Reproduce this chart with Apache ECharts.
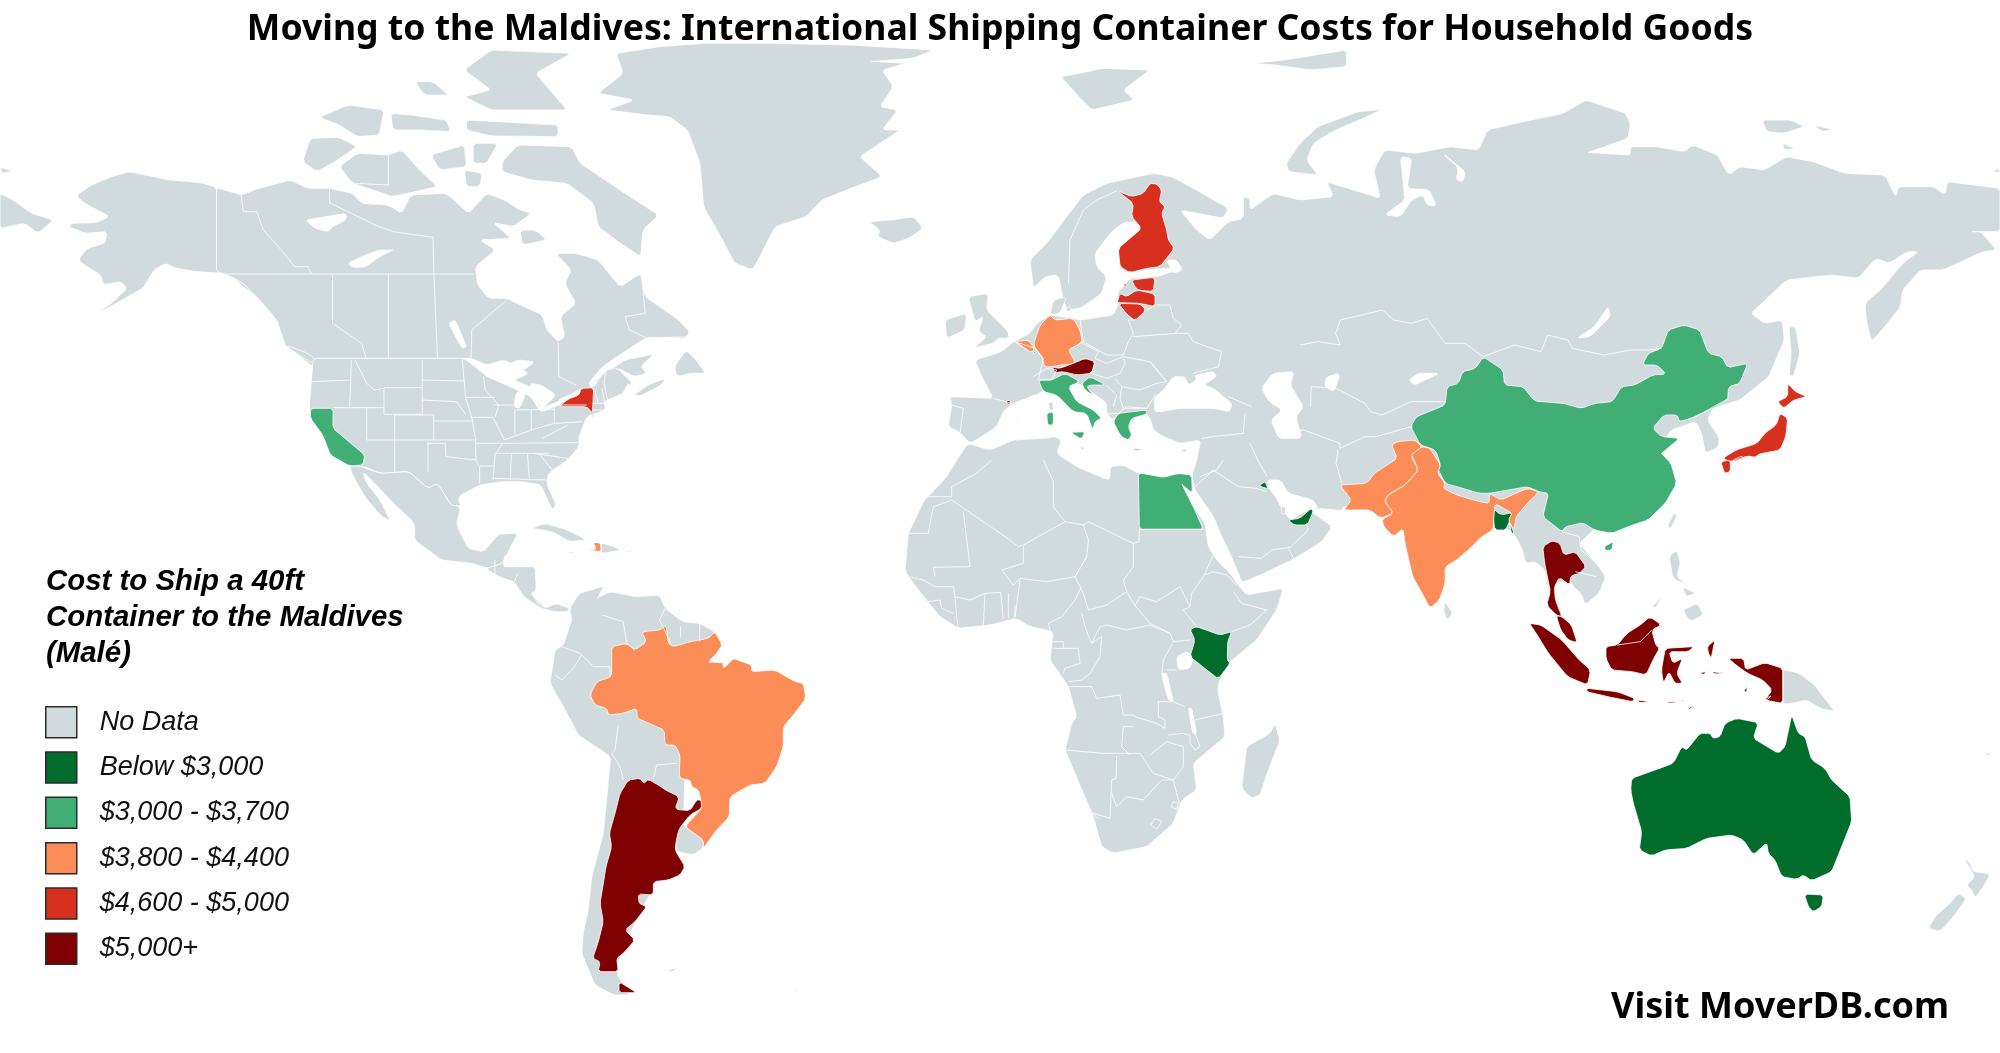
<!DOCTYPE html>
<html>
<head>
<meta charset="utf-8">
<title>Moving to the Maldives</title>
<script src="https://cdn.jsdelivr.net/npm/echarts@6/dist/echarts.min.js"></script>
<style>
html,body{margin:0;padding:0;background:#fff}
#main{width:2000px;height:1053px}
</style>
</head>
<body>
<div id="main"></div>
<script>
// legend
var legendLabels = ['No Data', 'Below $3,000', '$3,000 - $3,700', '$3,800 - $4,400', '$4,600 - $5,000', '$5,000+'];
var legendColors = ['#d1dbdd', '#006d2c', '#41ae76', '#fc8d59', '#d7301f', '#7f0000'];

// places in each cost band
var below3000 = ['Australia', 'Kenya', 'Bangladesh', 'United Arab Emirates', 'Kuwait'];
var from3000to3700 = ['China', 'Egypt', 'Italy', 'Greece', 'Croatia', 'California', 'Luxembourg'];
var from3800to4400 = ['India', 'Pakistan', 'Brazil', 'Germany', 'Belgium', 'Haiti'];
var from4600to5000 = ['Finland', 'Estonia', 'Latvia', 'Lithuania', 'Japan', 'New York'];
var over5000 = ['Argentina', 'Austria', 'Andorra', 'Thailand', 'Malaysia', 'Indonesia'];

var titleText = 'Moving to the Maldives: International Shipping Container Costs for Household Goods';
var legendTitle = 'Cost to Ship a 40ft\nContainer to the Maldives\n(Malé)';
var creditText = 'Visit MoverDB.com';

var Z1 = [0, 30, 2.24, 3], Z2 = [650, 30, 2.24, 3], Z3 = [1300, 100, 2.24, 3], Z4 = [250, 360, 2.613, 3];
var Z5 = [520, 620, 3, 3], Z6 = [880, 280, 3, 3], Z7 = [880, 460, 3, 3], Z8 = [1250, 330, 2.613, 3];
var Z9 = [1540, 690, 3, 3], Z11 = [980, 160, 3, 3];

function R() {
  var out = [];
  for (var a = 0; a < arguments.length; a += 2) {
    var f = arguments[a], p = arguments[a + 1];
    for (var i = 0; i < p.length; i += 2) {
      out.push([f[0] + p[i] / f[2], -(f[1] + p[i + 1] / f[3])]);
    }
  }
  return out;
}

// cut the corners of a traced ring a little so the coast is not so angular
function roundRing(ring, cut) {
  var out = [];
  for (var i = 0; i < ring.length; i++) {
    var a = ring[i], b = ring[(i + 1) % ring.length];
    var dx = b[0] - a[0], dy = b[1] - a[1];
    var len = Math.sqrt(dx * dx + dy * dy) || 1;
    var t = Math.min(cut / len, 0.18);
    out.push([a[0] + dx * t, a[1] + dy * t]);
    out.push([b[0] - dx * t, b[1] - dy * t]);
  }
  return out;
}

var land = {
  'Alaska': [R(Z1, [485,472,450,458,380,450,290,425,250,440,205,465,170,497,190,520,225,545,245,560,215,578,160,580,155,590,190,610,240,605,235,640,195,655,175,690,195,710,225,735,232,765,270,755,285,775,245,825,200,860,145,890,240,835,320,775,345,720,370,700,395,715,440,725,500,730,545,760,580,800,620,835,625,860,590,815,550,775,515,738,485,725])],
  'Canada': [
    R(Z1, [485,472,540,495,580,475,650,450,690,475,740,475,790,490,810,520,870,525,900,550,920,495,1000,490,1050,550,1090,490,1130,510,1165,540,1190,550,1150,590,1105,578,1145,625,1075,630,1110,660,1065,710,1070,765,1095,805,1135,805,1215,855,1225,900,1250,935,1265,920,1255,860,1290,820,1265,760,1280,720,1245,670,1290,670,1340,690,1370,740,1390,770,1435,730,1445,800,1520,870,1545,905,1535,925,1450,922,1410,955,1350,1010,1318,1060,1327,1070,1297,1085,1254,1116,1207,1140,1195,1075,1150,1050,1185,1030,1130,990,1090,1005,1055,985,715,985,700,1000,640,950,620,870,585,815,545,760,510,735,485,725]),
    R(Z1, [1320,1068,1352,1032,1400,990,1465,972,1435,1010,1450,1030,1420,1040,1385,1014]),
    R(Z4, [1003,105,1040,75,1085,55,1075,75,1020,108]),
    R(Z2, [55,1010,80,960,100,985,125,1030,90,1030,60,1040]),
    R(Z1, [1125,395,1160,345,1280,350,1300,400,1400,490,1475,555,1440,600,1435,680,1390,640,1340,590,1330,520,1270,460,1190,450,1125,425]),
    R(Z1, [678,395,695,325,760,322,800,350,750,395,710,425]),
    R(Z1, [760,410,800,370,870,375,900,360,940,420,980,470,880,500,790,460]),
    R(Z1, [1040,120,1100,60,1280,70,1200,130,1270,240,1100,240,1040,200,1100,180]),
    R(Z1, [1045,270,1250,285,1250,320,1100,318,1045,300]),
    R(Z1, [930,155,970,155,1005,195,950,195]),
    R(Z1, [715,262,780,225,860,240,850,315,800,320,760,285]),
    R(Z1, [875,250,920,255,1000,270,1010,305,940,300,880,300]),
    R(Z1, [1060,340,1115,340,1090,400,1060,400]),
    R(Z1, [965,375,1040,345,1045,410,985,420]),
    R(Z1, [1040,420,1080,430,1075,470,1045,470]),
    R(Z1, [1165,600,1200,600,1225,630,1170,645]),
    R(Z1, [640,945,690,970,718,1005,700,1010])
  ],
  'Greenland': [R(Z2, [-116,190,-60,130,-76,70,22,50,120,40,280,40,450,45,635,60,590,85,490,95,580,100,520,120,545,170,515,230,555,240,520,300,560,300,510,345,470,380,520,440,460,470,385,510,350,560,280,590,250,670,230,720,190,700,150,600,120,530,112,400,84,300,44,260,-6,255,-96,240,-36,210])],
  'Iceland': [R(Z2, [490,575,540,570,590,560,612,595,580,625,545,640,510,620,515,600])],
  'Svalbard': [R(Z2, [920,140,980,125,1010,115,1120,120,1090,150,1060,180,1085,210,990,240,960,200])],
  'Novaya Zemlya': [R(Z3, [185,28,150,50,80,90,30,130,15,180,40,225,-25,215,-31,190,0,130,40,80,130,35])],
  'Arctic Islands': [
    R(Z3, [1035,60,1100,60,1130,80,1085,100,1045,95]),
    R(Z3, [1150,75,1200,90,1170,95]),
    R(Z3, [1080,130,1110,145,1085,150]),
    R(Z3, [1550,215,1565,205,1568,218]),
    R(Z2, [1350,100,1420,90,1560,60,1560,110,1480,120,1400,105])
  ],
  'Eurasia': [R(
    Z6, [470,130],
    Z11, [210,465,280,475,300,480,400,465,415,430,412,400,450,355,530,350,560,340,605,330,560,325,500,330,430,338,413,265,485,205,470,185,430,188,395,215,345,280,350,320,380,350,365,400,330,425,300,445,262,450,250,420,235,345,195,350,160,385,150,300,200,250,260,170,310,105,380,70,520,40,575,50,640,85,745,145,730,175,600,150,650,210,690,240,745,185,790,175,790,110,810,115,810,150,880,100],
    Z3, [0,300,75,290,60,245,180,295,165,210,190,150,260,160,335,140,400,150,420,90,500,65,590,40,640,0,730,40,740,70,735,115,640,160,740,165,740,140,800,140,860,155,880,135,935,165,960,225,985,200,1040,210,1090,170,1150,185,1220,220,1310,225,1335,290,1340,260,1420,260,1445,285,1450,245,1568,265,1568,395,1500,395,1525,395,1560,450,1530,455,1440,510,1390,510,1350,570,1345,620,1310,680,1280,725,1270,670,1265,610,1300,570,1350,490,1385,455,1360,455,1320,490,1290,475,1250,535,1190,525,1090,540,1010,640,1040,670,1080,660,1085,720,1050,830,985,900],
    Z8, [1210,235,1195,270,1225,320,1225,350,1190,370,1180,310,1165,275,1100,300,1000,500,900,598,860,640,905,700,930,740,912,790,875,825,865,790,845,770,835,750,800,760,790,780,778,770,770,720,745,695,720,700,712,660,690,610,660,590,600,600,450,550,300,520,245,530,240,542,180,535,160,545,215,590],
    Z7, [1325,245,1240,298,1130,350,1085,368,1075,340,1050,280,1025,230,1000,170,945,90,935,45],
    Z6, [950,540,962,480,900,490,850,470,820,450,810,415,790,395,715,400,700,420,680,400,680,370,640,340,615,320,590,310,510,310,480,340,400,370,370,395,350,440,305,470,270,490,240,458,205,440,215,375,210,350,340,355,305,290,285,240,365,215,400,185,450,160]
  )],
  'Chukotka': [R(Z1, [0,490,30,510,70,550,120,570,85,610,55,580,0,595]), R(Z1, [0,412,28,423,5,430])],
  'Britain': [R(Z6, [265,50,325,40,320,90,385,155,385,175,355,175,340,190,275,205,320,170,295,155,310,110,285,125])],
  'Ireland': [R(Z6, [195,120,260,100,255,150,200,175])],
  'Denmark': [R(Z6, [510,105,520,60,560,50,540,100]), R(Z6, [555,90,570,75,575,100])],
  'Med Islands': [R(Z6, [505,368,518,365,520,390,510,392]), R(Z6, [900,510,925,505,915,518]), R(Z6, [403,425,415,422,412,430]), R(Z6, [602,500,612,500,612,510,602,510])],
  'Africa': [R(Z7, [264,-50,330,-30,400,-60,490,-65,525,-70,545,-60,530,-20,590,20,660,50,690,60,690,20,730,15,775,40,900,60,900,70,940,140,975,190,985,260,1010,300,1050,340,1075,375,1100,405,1210,385,1190,450,1130,540,1045,610,1015,670,1015,700,1030,770,1035,830,940,910,950,990,905,1020,880,1090,800,1160,700,1180,665,1160,640,1070,610,1000,555,870,575,790,590,770,565,680,510,600,520,515,450,500,410,475,330,495,235,505,180,470,115,390,75,335,85,220,130,125,200,50,230,0])],
  'Madagascar': [R(Z7, [1185,790,1200,840,1165,930,1140,1005,1115,1015,1085,985,1100,860,1170,820])],
  'USA': [R(Z4, [165,-5,160,65,155,140,160,175,190,225,210,285,260,318,300,320,340,340,415,335,465,385,490,370,525,435,550,440,545,410,600,375,660,365,710,365,760,375,790,450,800,435,775,370,780,340,830,300,860,260,860,230,880,170,930,150,925,125,975,100,985,75,1000,70,960,25,930,30,895,85,860,88,808,125,755,150,735,110,690,85,620,50,610,40,560,-5])],
  'Mexico': [R(Z4, [260,318,285,318,340,340,415,335,465,385,490,370,525,435,550,440,540,495,570,565,610,575,650,522,700,520,675,575,660,610,620,625,580,610,500,600,430,540,430,490,375,430,325,370,295,335,305,370,340,420,370,490,340,465,300,410,270,350])],
  'Central America': [R(Z4, [620,625,660,610,670,580,660,620,745,620,748,690,735,700,770,745,800,730,835,745,830,755,795,755,760,745,715,710,690,665,650,650,622,630])],
  'Caribbean': [R(Z4, [735,505,770,490,830,510,880,540,835,545,790,515]), R(Z4, [918,548,950,560,968,570,925,580,918,575]), R(Z4, [825,575,850,575,840,580]), R(Z4, [985,573,1005,575,990,578])],
  'South America': [R(
    Z4, [840,780,835,745,860,700,925,678,905,720,940,695,1010,710,1070,705,1085,745,1130,785,1175,790,1215,815],
    Z5, [500,300,490,618,552,660,548,685,520,705,470,695,465,660,400,800,300,1000,290,1060,330,1125,280,1125,225,1095,185,1000,190,935,205,870,215,770,250,640,272,410,175,345,130,260,90,190,105,90,130,75,155,0]
  )],
  'Falklands': [R(Z5, [432,1055,470,1043,460,1055]), R(Z5, [820,1104,840,1118,825,1112])],
  'Sri Lanka': [R(Z8, [510,815,530,850,515,870,505,840])],
  'Sakhalin': [R(Z3, [1095,680,1110,680,1120,760,1105,830,1095,825,1100,760])],
  'Taiwan': [R(Z8, [1090,590,1110,545,1115,560,1100,595])],
  'Philippines': [R(Z8, [1095,680,1115,660,1125,700,1115,740,1150,770,1105,745]), R(Z8, [1130,770,1165,790,1140,800]), R(Z8, [1130,840,1170,820,1185,855,1150,875]), R(Z8, [1050,830,1080,795,1060,835])],
  'PNG': [R(Z8, [1393,1018,1435,1030,1475,1065], Z9, [885,65,840,55,800,30,755,40,730,42])],
  'New Zealand': [R(Z9, [1270,503,1290,520,1300,545,1352,552,1330,590,1305,625,1295,600,1280,585,1305,560]), R(Z9, [1255,610,1280,625,1240,680,1200,725,1165,715,1185,680,1230,640]), R(Z9, [1118,238,1160,268,1125,245]), R(Z9, [1335,190,1355,187,1345,197])]
};

var water = {
  'Baltic Lakes': [R(Z11, [560,300,590,300,607,330,580,340])],
  'Black Sea': [R(Z6, [825,395,822,355,850,330,880,290,915,290,925,315,950,300,945,285,1000,275,1010,290,970,315,1000,325,1055,370,1050,395,1000,385,900,385,840,395])],
  'Caspian': [R(Z8, [30,175,60,130,115,125,105,165,140,230,120,260,135,325,75,325,55,270,85,240,50,215])],
  'Aral': [R(Z8, [195,170,200,140,235,130,220,185])],
  'Balkhash': [R(Z8, [415,150,440,130,495,130,430,165])],
  'Baikal': [R(Z3, [620,715,660,680,690,620,695,650,650,710])],
  'Ob': [R(Z3, [225,170,250,175,240,265,290,270,305,318,285,315,275,285,250,300,225,350,190,345,235,300,230,230])],
  'Yenisei': [R(Z3, [320,160,370,215,365,245,350,240,355,205])],
  'Persian Gulf': [R(Z8, [45,450,80,450,100,490,165,510,178,535,150,540,105,570,80,530,70,505,50,475])],
  'Victoria': [R(Z7, [890,590,920,575,940,590,930,625,895,630])],
  'Tanganyika': [R(Z7, [845,640,860,640,880,725,865,720])],
  'Malawi': [R(Z7, [925,745,935,745,950,820,938,820])],
  'Superior': [R(Z4, [625,45,670,15,700,0,745,5,715,30,680,35,650,35])],
  'Michigan': [R(Z4, [695,100,725,70,720,100,705,145,690,140])],
  'Huron': [R(Z4, [730,70,760,75,800,105,760,150,750,120])],
  'Erie': [R(Z4, [755,150,810,122,815,130,765,155])],
  'Ontario': [R(Z4, [805,120,860,92,865,105,815,128])],
  'Bear': [R(Z1, [685,570,730,560,775,550,775,570,745,590,735,605,705,595])],
  'Slave': [R(Z1, [780,700,810,680,850,660,885,660,850,680,820,710,790,712])],
  'Winnipeg': [R(Z1, [1005,880,1020,870,1045,950,1035,955])],
  'Baffin Lakes': [R(Z1, [1280,520,1305,515,1305,535,1285,535]), R(Z1, [1275,600,1295,600,1295,615,1275,615])]
};

var islandsInWater = {
  'Qatar': [R(Z8, [82,530,92,530,92,552,82,552])]
};

var bands = {
  'Australia': [R(Z9, [275,265,345,240,400,220,425,170,440,180,480,130,510,130,520,145,540,140,555,100,590,85,655,98,640,145,715,190,735,170,755,75,775,130,795,140,815,210,855,235,875,270,930,320,935,395,905,470,875,545,815,572,790,555,770,568,725,560,705,510,685,490,680,458,640,495,610,450,575,435,500,445,440,475,375,480,335,498,298,480,305,425,280,340,272,300]), R(Z9, [793,612,850,615,845,650,820,665,805,650])],
  'Kenya': [R(Z7, [930,508,950,500,1020,525,1055,515,1043,545,1042,600,1050,610,1015,657,930,590,945,540])],
  'Bangladesh': [R(Z8, [625,525,655,555,685,548,680,570,668,600,640,600,635,560]), R(Z8, [678,575,690,610,683,610])],
  'United Arab Emirates': [R(Z8, [100,570,130,565,160,535,165,545,150,585,115,585])],
  'Kuwait': [R(Z8, [25,465,40,455,48,480,30,470])],
  'China': [
    R(Z3, [410,770,455,810,458,855,500,860,525,903,590,910,630,925,660,910,700,905,720,860,750,855,790,825,820,822,800,795,767,795,780,760,810,745,825,690,860,675,895,690,915,760,945,770,958,803,1003,790,985,850,960,860,958,900,925,925,875,955,850,965,845,945,815,945,790,985,810,1010,850,1015,810,1060],
      Z8, [1075,370,1100,400,1115,460,1085,520,1040,570,1000,585,945,610,900,600,870,578,825,590,815,605,765,560,780,490,755,485,725,470,625,490,600,490,510,460,490,415,498,405,485,360,445,345,420,290,435,260,510,225,515,170,545,160,555,125,590,115]),
    R(Z8, [925,650,950,635,945,660,930,662])
  ],
  'Egypt': [R(Z7, [775,38,850,52,895,40,935,45,937,100,900,68,940,140,970,208,778,208])],
  'Italy': [R(Z6, [475,300,515,300,555,280,600,305,565,320,590,365,640,390,665,415,645,425,638,450,620,400,580,395,530,345,490,335]), R(Z6, [500,400,520,395,520,435,503,435]), R(Z6, [570,457,615,455,605,478])],
  'Greece': [R(Z6, [700,425,715,400,800,390,800,402,755,415,745,440,755,465,745,480,725,470,715,455]), R(Z6, [755,505,795,510,770,512])],
  'Croatia': [R(Z6, [605,310,630,290,678,315,635,315,620,320,645,352,615,330])],
  'California': [R(Z4, [158,145,217,145,217,205,300,285,295,315,260,318,210,285,190,225,158,175])],
  'Luxembourg': [R(Z11, [158,570,168,580,160,582])],
  'India': [R(Z8, [420,370,450,350,470,355,498,405,490,430,510,460,505,475,540,495,600,515,625,520,625,490,655,510,725,475,755,485,725,520,695,560,690,600,675,570,685,550,640,520,635,600,605,620,580,650,540,690,510,710,510,760,495,810,470,835,450,790,425,740,405,640,400,595,375,620,350,590,345,568,375,550,352,515,360,495,405,465,440,420])],
  'Pakistan': [R(Z8, [235,465,305,460,325,430,385,385,370,345,385,335,430,330,450,350,420,375,440,420,405,465,360,495,352,515,375,550,340,565,315,540,245,540,265,510])],
  'Brazil': [R(Z5, [275,80,320,70,345,90,380,65,365,35,420,30,438,15,445,70,460,80,510,65,565,55,585,35,607,75,590,100,565,125,620,130,640,115,695,135,695,155,765,150,825,185,850,190,858,235,820,285,790,320,790,380,770,440,735,490,690,495,630,530,628,590,590,630,550,685,550,660,495,620,545,565,543,540,535,510,515,500,510,480,478,475,480,405,465,375,435,375,433,330,352,295,350,265,310,280,265,285,260,265,225,255,210,225,230,185,275,170])],
  'Germany': [R(Z11, [210,465,225,480,280,475,300,510,307,547,265,570,288,610,195,622,185,590,160,555,180,495])],
  'Belgium': [R(Z11, [105,545,145,540,163,565,155,578])],
  'Haiti': [R(Z4, [880,570,905,568,897,548,915,548,918,575])],
  'Finland': [R(Z11, [412,92,455,110,490,100,510,70,530,72,545,90,538,125,555,140,545,160,560,210,565,240,583,265,540,320,500,325,450,338,420,320,415,265,485,205,455,170,460,130])],
  'Estonia': [R(Z11, [455,360,525,352,520,395,475,390,465,380]), R(Z11, [430,375,440,368,438,382])],
  'Latvia': [R(Z11, [412,425,420,400,440,410,470,390,525,402,525,440,480,430,415,428])],
  'Lithuania': [R(Z11, [415,430,480,432,498,450,465,482,440,462])],
  'Japan': [
    R(Z8, [1405,160,1425,185,1455,200,1420,210,1395,235,1378,215,1405,200]),
    R(Z8, [1385,250,1405,265,1400,320,1385,360,1330,372,1320,382,1300,378,1255,395,1235,385,1270,360,1325,340,1345,310,1375,285]),
    R(Z8, [1262,390,1285,378,1290,385,1262,396]),
    R(Z8, [1230,395,1255,390,1255,425,1240,430])
  ],
  'New York': [R(Z4, [808,140,830,118,860,105,865,85,898,83,895,160,880,140]), R(Z4, [890,168,908,165,895,170])],
  'Argentina': [R(Z5, [325,480,360,475,372,490,385,478,415,495,440,512,478,530,465,568,510,572,530,540,543,540,545,565,510,585,478,625,470,655,465,690,495,740,480,765,445,780,400,785,400,825,355,822,357,850,380,860,345,905,315,930,345,960,310,1000,290,1015,295,1055,235,1055,240,1025,218,1015,235,965,250,905,240,850,250,790,258,740,275,680,268,640,285,580,300,520]), R(Z5, [297,1085,350,1118,297,1118])],
  'Austria': [R(Z11, [218,622,240,625,280,610,315,595,345,605,335,640,290,645,250,635,225,638])],
  'Andorra': [R(Z6, [380,362,392,362,393,372,380,373])],
  'Thailand': [R(Z8, [765,650,790,632,810,640,820,675,850,665,878,710,860,730,838,738,835,765,808,742,795,772,798,810,815,860,800,855,775,825,785,785,770,700])],
  'Malaysia': [R(Z8, [800,857,815,860,840,885,855,938,832,930,812,900])],
  'Indonesia': [
    R(Z8, [730,880,760,885,815,930,860,990,890,1020,882,1065,830,1040,780,970,745,905]),
    R(Z8, [880,1075,960,1085,1005,1105,1000,1115,935,1100,880,1085]),
    R(Z8, [930,950,960,945,985,910,1020,885,1045,860,1075,885,1050,900,1060,945,1070,955,1055,985,1035,1035,1000,1025,945,1020,930,985]),
    R(Z8, [1085,955,1160,950,1145,965,1095,965,1105,1000,1130,985,1115,1030,1130,1060,1110,1060,1095,1025,1080,1060,1075,1020]),
    R(Z8, [1250,985,1290,985,1295,1020,1345,998,1392,1015,1392,1120,1345,1110,1365,1080,1340,1050,1300,1030,1270,1005]),
    R(Z8, [1010,1110,1050,1115,1020,1118]), R(Z8, [1085,1115,1130,1115,1140,1110,1100,1120]),
    R(Z8, [1145,1135,1160,1125,1150,1138]), R(Z8, [1205,1025,1245,1030,1215,1032]),
    R(Z8, [1195,950,1215,930,1205,985,1198,970]), R(Z8, [1175,1028,1195,1025,1185,1034]),
    R(Z8, [1290,1085,1300,1065,1298,1085]), R(Z8, [1345,1105,1365,1097,1350,1110])
  ]
};

// river mouth that cuts into the brazil fill
var lateWater = {
  'Amazon Mouth': [R(Z5, [565,128,598,98,604,104,578,126]), R(Z5, [612,145,640,116,630,112,608,130])]
};

// white inner borders, drawn as lines on top
var borders = [
  // canada
  R(Z1, [540,495,545,545,575,545,590,600,630,660,660,710,690,710,697,732]),
  R(Z1, [738,478,738,518,840,585,880,605,970,622,972,732]),
  R(Z1, [485,732,1060,732]), R(Z1, [745,735,745,880,810,940,820,985]), R(Z1, [870,732,870,985]), R(Z1, [972,732,980,985]),
  R(Z1, [1055,985,1057,900,1135,810]), R(Z1, [1250,935,1252,1040,1290,1065]),
  R(Z1, [1437,735,1445,850,1400,860,1410,900,1450,925,1535,920]), R(Z1, [870,375,870,465,790,460]),
  // us states
  R(Z4, [160,65,265,60]), R(Z4, [265,0,262,100,260,143]), R(Z4, [217,143,350,143]), R(Z4, [305,143,305,240]),
  R(Z4, [275,0,305,70,325,90,350,85]), R(Z4, [350,83,450,83,450,163,350,163,350,83]), R(Z4, [378,163,378,340]),
  R(Z4, [305,240,590,240]), R(Z4, [378,165,480,165,480,240]), R(Z4, [465,245,465,335]),
  R(Z4, [450,0,450,83]), R(Z4, [555,0,563,110,580,175,590,240,590,300]), R(Z4, [450,60,560,63]),
  R(Z4, [450,120,540,125,565,165]), R(Z4, [480,183,580,183]), R(Z4, [465,250,510,250,512,290,590,300,600,320,600,370]),
  R(Z4, [590,250,660,250]), R(Z4, [563,112,640,112]), R(Z4, [575,172,635,172,665,240]), R(Z4, [600,318,640,318]),
  R(Z4, [660,250,640,285,635,360]), R(Z4, [660,250,860,248]), R(Z4, [640,280,780,280]), R(Z4, [683,280,680,360]),
  R(Z4, [725,280,730,360]), R(Z4, [635,355,775,360]), R(Z4, [755,280,790,330]), R(Z4, [740,280,830,295]),
  R(Z4, [635,135,690,135]), R(Z4, [692,150,692,225]), R(Z4, [735,150,735,210]), R(Z4, [692,150,795,148]),
  R(Z4, [665,240,735,210,795,190]), R(Z4, [795,135,880,135]), R(Z4, [795,135,795,190,870,185]),
  R(Z4, [765,235,830,195]), R(Z4, [900,85,910,130]), R(Z4, [920,85,930,150]), R(Z4, [895,130,935,130]), R(Z4, [895,150,930,150]),
  R(Z4, [610,50,615,90,650,135,640,172]), R(Z4, [935,125,925,70,930,30]),
  // latin america
  R(Z4, [920,765,975,785,985,850,1005,870]), R(Z4, [1085,745,1070,780,1100,850]), R(Z4, [1125,800,1125,830]), R(Z4, [1175,790,1175,845]),
  R(Z4, [640,600,640,650]), R(Z4, [665,590,665,620]), R(Z4, [700,640,690,665]), R(Z4, [735,700,760,745]),
  R(Z5, [125,80,180,100,220,140,270,140,270,170]), R(Z5, [185,105,160,145,125,180,105,165]),
  R(Z5, [295,315,285,390,275,400,300,440,310,480]), R(Z5, [400,475,410,435,470,430]),
  // africa
  R(Z7, [130,110,215,110,215,80,290,40,335,0]), R(Z7, [215,120,160,140,145,220,80,220]),
  R(Z7, [215,120,390,240,415,260,430,255,555,185,520,140,520,65,490,0]), R(Z7, [250,155,270,320,160,322,165,350]),
  R(Z7, [430,258,430,310,365,330,400,375,420,355,500,365,585,350,620,290]), R(Z7, [555,185,610,195,625,185,760,250]),
  R(Z7, [778,208,777,245,760,250,760,320,730,360,740,395]), R(Z7, [778,208,970,208]),
  R(Z7, [610,195,625,240,620,290,585,350,610,400,625,450,680,435,740,395,765,437,810,490,870,520]),
  R(Z7, [765,437,780,410,830,425,900,380,915,410,930,440,910,450,950,500]), R(Z7, [930,440,935,400,970,350,1000,285]),
  R(Z7, [975,345,1000,335,1040,345,1070,375]), R(Z7, [1060,395,1085,430,1160,450,1110,495,1055,515]),
  R(Z7, [420,360,405,470]), R(Z7, [605,380,585,420,545,470,505,490,510,510]), R(Z7, [315,400,310,495]), R(Z7, [315,400,362,397,370,478]),
  R(Z7, [385,400,385,475]), R(Z7, [405,435,405,475]), R(Z7, [85,350,130,360,165,380,220,380,225,410,270,420,315,400]),
  R(Z7, [225,410,230,470,235,505]), R(Z7, [145,425,180,420,185,445,220,460]),
  R(Z7, [605,460,620,515,635,550,660,500,680,495,740,510,810,495,870,520]), R(Z7, [635,550,665,530,660,590,630,640,605,660,565,665]),
  R(Z7, [565,680,635,680,650,715,720,705,730,765,760,765,765,770,830,790,855,805,855,780,835,770,835,725,880,725,915,740]),
  R(Z7, [870,520,880,545,850,600,845,640,860,700,880,725]), R(Z7, [520,565,595,565,600,610,555,625,550,640]), R(Z7, [520,545,550,545,550,565]),
  R(Z7, [555,870,670,880,780,880]), R(Z7, [760,800,730,800,725,860,750,885]), R(Z7, [945,780,1030,760]),
  R(Z7, [930,750,945,820,960,860,945,870,930,850,930,825,905,820]), R(Z7, [880,545,930,540]), R(Z7, [860,630,890,630]),
  R(Z7, [865,825,910,820]), R(Z7, [780,880,820,940,880,960,910,920,910,860,860,845,810,885]),
  R(Z7, [710,888,708,955,695,960,690,1075,640,1060,655,1078]), R(Z7, [695,1000,710,1040,740,1010,790,1020,845,960,880,960]),
  R(Z7, [880,960,895,1020,905,1040]), R(Z7, [825,1075,845,1085,830,1108,812,1095,825,1075]), R(Z7, [880,1025,895,1030,890,1048,873,1040,880,1025]),
  // arabia and middle east
  R(Z7, [940,85,1000,30,1075,80,1130,85,1160,95]), R(Z7, [1075,290,1145,295,1175,270,1230,262,1285,210,1280,195]), R(Z7, [1225,265,1243,300]),
  R(Z7, [960,50,1010,30,1030,0]), R(Z6, [965,475,1000,470,1090,460,1095,400]), R(Z6, [1045,350,1115,380]),
  R(Z8, [0,340,20,390,45,440]), R(Z8, [230,360,225,400,240,460]),
  R(Z8, [158,230,160,170,225,175,300,220,315,245,345,255,420,215,510,215]), R(Z8, [70,310,140,300,235,340,235,355,300,320,330,320,420,290]),
  // russia, kazakhstan, mongolia
  R(Z3, [0,735,40,725,90,735,80,700,90,660,185,630,210,660,250,670,285,655,325,730,370,730,410,770]),
  R(Z3, [410,770,480,735,540,755,555,705,600,720,610,745,680,765,740,750,780,750,810,745]), R(Z3, [880,955,960,895]),
  R(Z8, [815,605,860,620,865,660,905,700]), R(Z8, [850,725,905,740]),
  R(Z8, [960,945,1020,935,1050,900]),
  // europe
  R(Z11, [265,370,270,240,310,150,350,120,412,92]), R(Z11, [500,450,530,435,570,435,580,475,605,495,585,520,625,520,640,545,725,575,715,620,640,640]),
  R(Z11, [300,480,310,545,380,585,430,585,445,545,460,520,445,480,465,480]), R(Z11, [460,530,590,520]),
  R(Z11, [265,570,305,548,355,575,345,595,380,610,430,590]), R(Z11, [345,605,335,640,380,655,420,640,435,610,430,595]),
  R(Z11, [430,590,510,605,540,640,560,665,530,670,480,690,425,680,405,655]), R(Z11, [510,605,560,665]),
  R(Z11, [425,680,420,715,430,745,500,745,530,700]),
  R(Z6, [460,290,500,265,530,270,515,300,475,300]), R(Z6, [215,375,250,385,240,460]), R(Z6, [340,355,395,370]), R(Z6, [440,210,405,185,465,205,490,235,475,300]),
  R(Z6, [678,315,710,345,700,380]), R(Z6, [680,400,715,400,740,380,800,385])
];

// build the geojson, order matters: land, water, coloured places, border lines
var features = [];
function addPolys(obj) {
  for (var k in obj) {
    features.push({
      type: 'Feature',
      properties: { name: k },
      geometry: { type: 'MultiPolygon', coordinates: obj[k].map(function (r) { return [roundRing(r, 2.5)]; }) }
    });
  }
}
addPolys(land);
addPolys(water);
addPolys(islandsInWater);
addPolys(bands);
addPolys(lateWater);
features.push({ type: 'Feature', properties: { name: 'Borders' }, geometry: { type: 'MultiLineString', coordinates: borders } });

echarts.registerMap('moverWorld', { type: 'FeatureCollection', features: features });

var regionStyles = [];
[below3000, from3000to3700, from3800to4400, from4600to5000, over5000].forEach(function (names, i) {
  names.forEach(function (n) {
    regionStyles.push({ name: n, itemStyle: { areaColor: legendColors[i + 1] } });
  });
});
Object.keys(water).concat(Object.keys(lateWater)).forEach(function (n) {
  regionStyles.push({ name: n, itemStyle: { areaColor: '#ffffff' } });
});

var legendData = [];
var seriesList = [];
legendLabels.forEach(function (label, i) {
  legendData.push({ name: label, itemStyle: { color: legendColors[i], opacity: 1, borderColor: '#2b2b2b', borderWidth: 1.5 } });
  seriesList.push({ name: label, type: 'scatter', coordinateSystem: 'geo', geoIndex: 0, data: [], itemStyle: { color: legendColors[i], opacity: 1 } });
});

var chart = echarts.init(document.getElementById('main'), null, { renderer: 'canvas', width: 2000, height: 1053 });
chart.setOption({
  animation: false,
  backgroundColor: '#ffffff',
  title: [
    { text: titleText, left: 'center', top: 7, textStyle: { fontFamily: 'Noto Sans', fontWeight: 700, fontSize: 35.6, color: '#000' } },
    { text: legendTitle, left: 41, top: 559, textStyle: { fontFamily: 'Liberation Sans', fontWeight: 700, fontStyle: 'italic', fontSize: 29.4, lineHeight: 36, color: '#000' } },
    { text: creditText, left: 1606, top: 985, textStyle: { fontFamily: 'Noto Sans', fontWeight: 700, fontSize: 36, color: '#000' } }
  ],
  legend: {
    orient: 'vertical', left: 40, top: 701, icon: 'rect', itemWidth: 31, itemHeight: 31, itemGap: 12.8, selectedMode: false,
    data: legendData,
    textStyle: { fontFamily: 'Liberation Sans', fontStyle: 'italic', fontSize: 27, color: '#111', padding: [0, 0, 0, 18] }
  },
  geo: {
    map: 'moverWorld', silent: true, roam: false, aspectScale: 1,
    boundingCoords: [[0, 0], [2000, -1053]],
    left: 0, top: 0, width: 2000, height: 1053,
    itemStyle: { areaColor: legendColors[0], borderColor: '#ffffff', borderWidth: 0.8 },
    regions: regionStyles
  },
  series: seriesList
});
</script>
</body>
</html>
